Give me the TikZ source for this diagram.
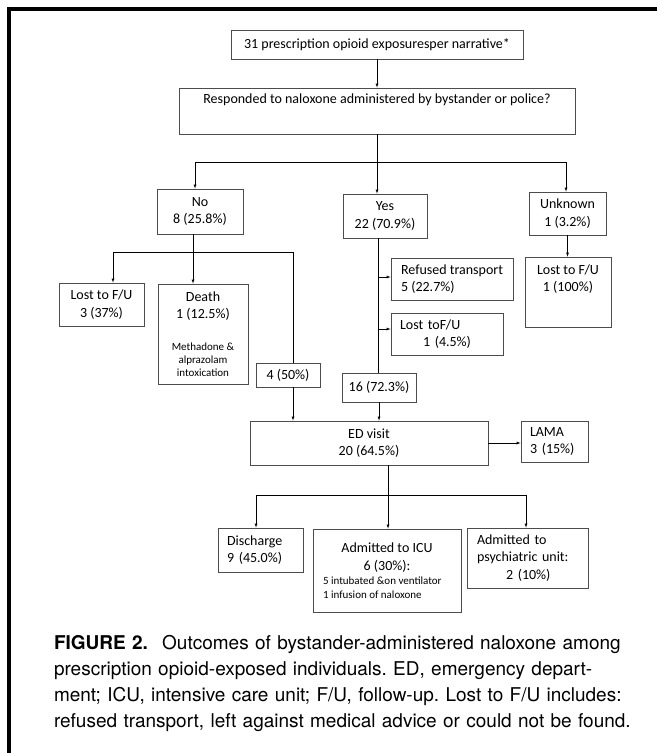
\documentclass[tikz,border=0pt]{standalone}
\usepackage{fontspec}
\setmainfont{Carlito}
\newfontfamily\capfont{TeX Gyre Heros}
\usepackage{tikz}
\newcommand{\smalltxt}{\fontsize{11}{13}\selectfont}

\begin{document}
\begin{tikzpicture}[x=1pt,y=-1pt,>=latex,
    box/.style={draw=black!70,line width=0.8pt,inner sep=3pt,align=center,
        font=\fontsize{14}{17.5}\selectfont},
    lbox/.style={box,align=left,inner xsep=9pt}]
\useasboundingbox (0,0) rectangle (657,753);

\draw[line width=4pt] (9,753)--(9,9)--(657,9);

\node[box,minimum width=292pt,minimum height=29pt] (top) at (377,44.5)
    {31 prescription opioid exposuresper narrative*};
\node[box,minimum width=396pt,minimum height=46pt] (resp) at (377,111)
    {Responded to naloxone administered by bystander or police?\\[7pt]\mbox{}};

\node[box,minimum width=86pt,minimum height=45pt] (no) at (200,211.5) {No\\8 (25.8\%)};
\node[box,minimum width=84pt,minimum height=44pt] (yes) at (385,216) {Yes\\22 (70.9\%)};
\node[box,minimum width=77pt,minimum height=43pt] (unk) at (567.5,213.5) {Unknown\\1 (3.2\%)};
\node[box,minimum width=86pt,minimum height=70pt] (lostunk) at (568,292)
    {Lost to F/U\\1 (100\%)\\[10pt]\mbox{}};

\node[box,minimum width=85pt,minimum height=43pt] (lostno) at (101.5,304.5) {Lost to F/U\\3 (37\%)};
\node[box,minimum width=90pt,minimum height=100pt] (death) at (203,334)
    {Death\\1 (12.5\%)\\[14pt]\parbox[t]{80pt}{\centering\smalltxt Methadone \&\\alprazolam\\intoxication}};
\node[box,minimum width=64pt,minimum height=24pt] (four) at (288,375) {4 (50\%)};

\node[lbox,minimum width=122pt,minimum height=42pt] (refused) at (452,279) {Refused transport\\5 (22.7\%)};
\node[lbox,minimum width=112pt,minimum height=42pt,text width=94pt] (lostyes) at (447,334)
    {Lost toF/U\\\hspace*{23pt}1 (4.5\%)};
\node[box,minimum width=74pt,minimum height=29pt] (sixteen) at (379,387.5) {16 (72.3\%)};

\node[box,minimum width=238pt,minimum height=44pt] (ed) at (369,443) {ED visit\\20 (64.5\%)};
\node[lbox,minimum width=67pt,minimum height=41pt,text width=49pt] (lama) at (554.5,441.5) {LAMA\\3 (15\%)};

\node[lbox,minimum width=85pt,minimum height=44pt,text width=67pt] (discharge) at (260.5,550)
    {Discharge\\9 (45.0\%)};
\node[box,minimum width=148pt,minimum height=83pt] (icu) at (387,570.5)
    {Admitted to ICU\\6 (30\%):\\[-3.5pt]\parbox[t]{128pt}{\raggedright\fontsize{11}{14}\selectfont
    5 intubated \&on ventilator\\1 infusion of naloxone}};
\node[lbox,minimum width=121pt,minimum height=60pt,text width=101pt,inner xsep=10pt] (psych) at (527.5,558)
    {Admitted to\\psychiatric unit:\\\hspace*{29pt}2 (10\%)};

\coordinate (split) at (377,162);
\coordinate (nsplit) at (193,252);
\coordinate (esplit) at (388,495);

\draw[->] (top)--(resp);
\draw[->] (resp.south)--(resp.south |- yes.north);
\draw[->] (split)-|([xshift=-5pt]no.north);
\draw[->] (split)-|([xshift=-1.5pt]unk.north);
\draw[->] (unk.south)--(unk.south |- lostunk.north);

\draw ([xshift=-7pt]no.south)--(nsplit);
\draw[->] (nsplit)-|([xshift=11.5pt]lostno.north);
\draw[->] (nsplit)--(nsplit |- death.north);
\draw (nsplit)-|([xshift=5pt]four.north);
\draw[->] ([xshift=5pt]four.south)--([xshift=5pt]four.south |- ed.north);

\draw ([xshift=-7pt]yes.south) coordinate (ytrunk)--(ytrunk |- sixteen.north);
\draw[<-] ([yshift=2pt]refused.west) coordinate (rfin)--(rfin -| ytrunk);
\draw[<-] ([yshift=5pt]lostyes.west) coordinate (lyin)--(lyin -| ytrunk);
\draw[->] (sixteen)--(sixteen |- ed.north);

\draw[->] (ed.east)--(ed.east -| lama.west);
\draw ([xshift=19pt]ed.south)--(esplit);
\draw[->] (esplit)-|([xshift=-4.5pt]discharge.north);
\draw[->] (esplit)--(esplit |- icu.north);
\draw[->] (esplit)-|([xshift=-1.5pt]psych.north);

\node[text width=592pt,inner sep=0pt,font=\capfont\fontsize{19}{26}\selectfont] (caption) at (350,683)
    {\frenchspacing\parfillskip=0pt\hyphenpenalty=10000
    \textbf{FIGURE 2.}\hspace{0.75em}Outcomes of bystander-administered naloxone among\linebreak
    prescription opioid-exposed individuals. ED, emergency depart-\linebreak
    ment; ICU, intensive care unit; F/U, follow-up. Lost to F/U includes:\linebreak
    refused transport, left against medical advice or could not be found.};
\end{tikzpicture}
\end{document}
